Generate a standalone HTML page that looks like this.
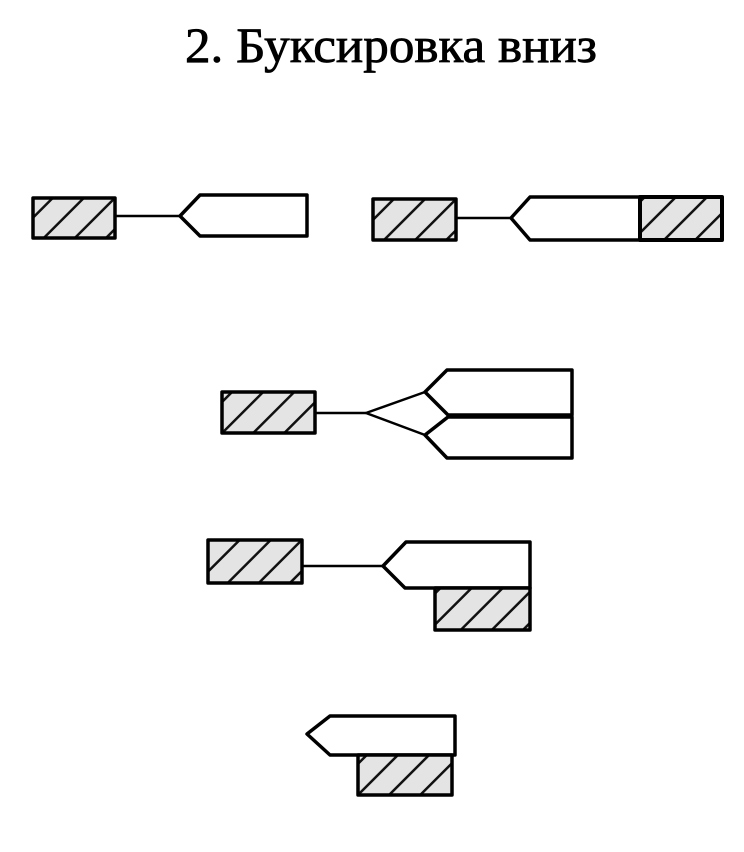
<!DOCTYPE html>
<html><head><meta charset="utf-8"><style>
html,body{margin:0;padding:0;background:#fff;}
</style></head><body>
<svg width="744" height="847" xmlns="http://www.w3.org/2000/svg">
<defs>
<pattern id="h" patternUnits="userSpaceOnUse" width="22" height="22" patternTransform="rotate(45)">
<rect width="22" height="22" fill="#e4e4e4"/>
<line x1="0" y1="0" x2="0" y2="22" stroke="#111" stroke-width="5"/>
</pattern>
</defs>
<text x="391" y="62" text-anchor="middle" font-family="Liberation Serif, serif" font-size="50" stroke="#000" stroke-width="0.8" textLength="412" lengthAdjust="spacingAndGlyphs">2. Буксировка вниз</text>
<g stroke="#000" stroke-width="3.5" fill="none" stroke-linejoin="round">
<rect x="33" y="198" width="82" height="40" fill="url(#h)"/>
<line x1="115" y1="216" x2="180" y2="216" stroke-width="2.5"/>
<polygon points="180,216 200,195 307,195 307,236 200,236"/>
<rect x="373" y="199" width="83" height="41" fill="url(#h)"/>
<line x1="456" y1="218" x2="511" y2="218" stroke-width="2.5"/>
<polygon points="511,218 530,197 640,197 640,240 530,240"/>
<rect x="640" y="197" width="82" height="43" fill="url(#h)" stroke-width="4"/>
<rect x="222" y="392" width="93" height="41" fill="url(#h)"/>
<line x1="315" y1="413" x2="366" y2="413" stroke-width="2.5"/>
<polyline points="425,392 366,413 425,435" stroke-width="2.5"/>
<polygon points="425,392 447,370 572,370 572,415 448,415"/>
<polygon points="425,435 448,417 572,417 572,458 447,458"/>
<rect x="208" y="540" width="94" height="43" fill="url(#h)"/>
<line x1="302" y1="566" x2="383" y2="566" stroke-width="2.5"/>
<polygon points="383,566 406,542 530,542 530,588 405,588"/>
<rect x="435" y="588" width="95" height="42" fill="url(#h)"/>
<polygon points="307,734 330,716 455,716 455,755 330,755"/>
<rect x="358" y="755" width="94" height="40" fill="url(#h)"/>
</g>
</svg>
</body></html>
